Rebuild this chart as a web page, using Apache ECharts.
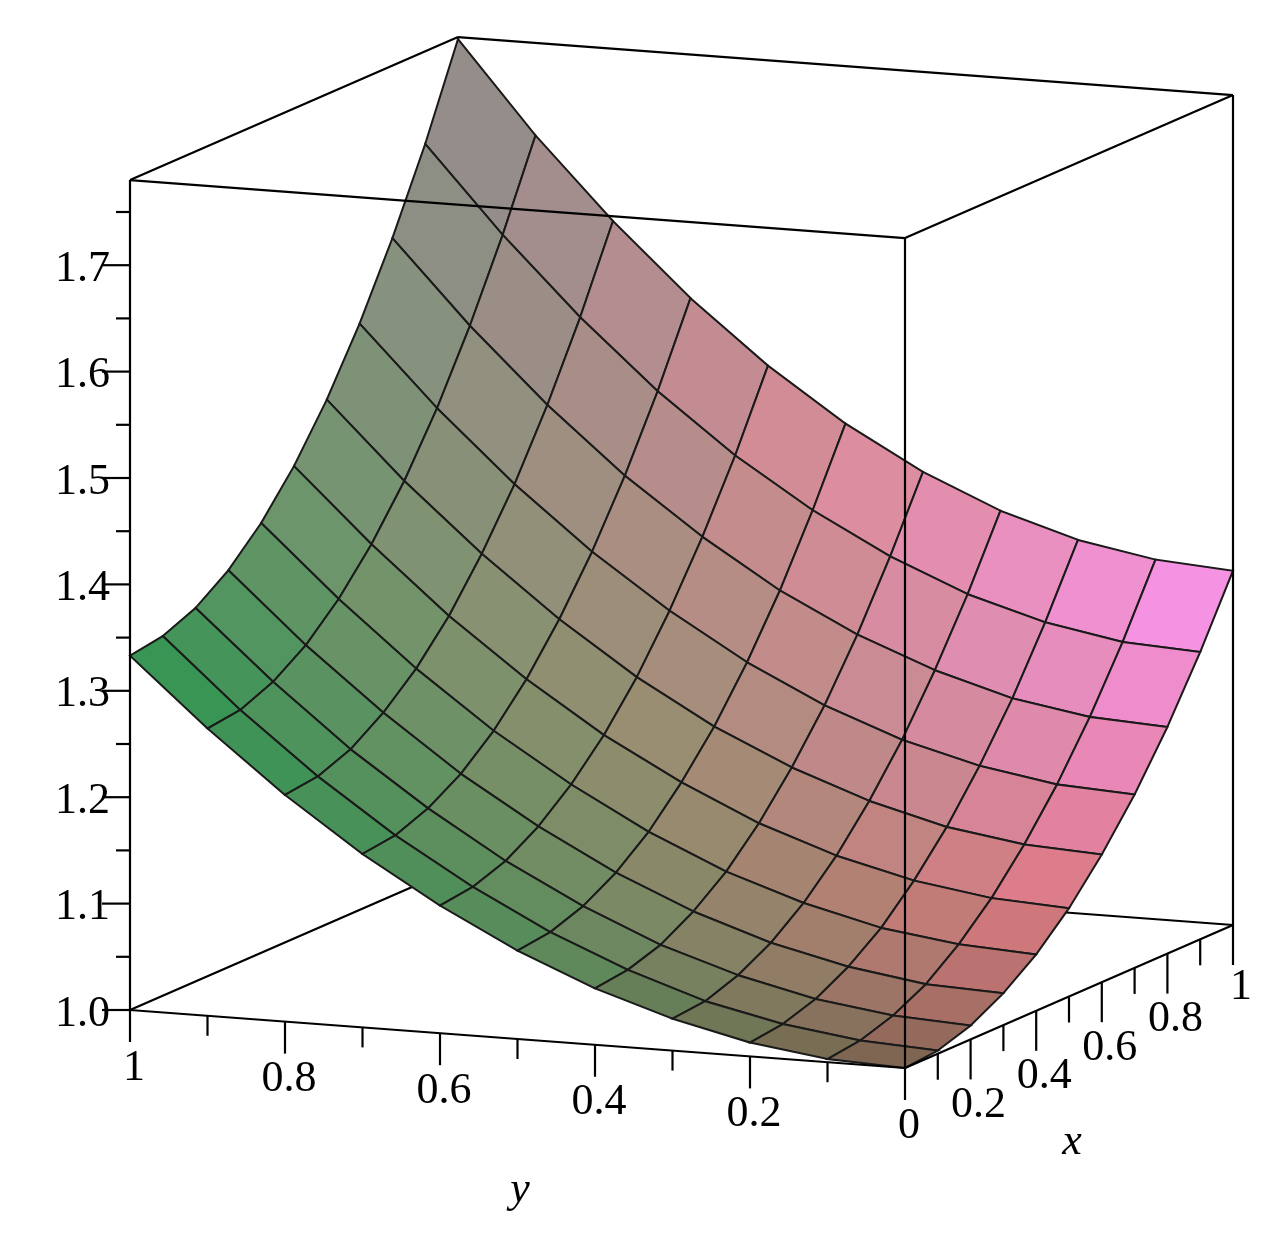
<!DOCTYPE html>
<html><head><meta charset="utf-8">
<script src="https://cdn.jsdelivr.net/npm/echarts@6/dist/echarts.min.js"></script>
<style>html,body{margin:0;padding:0;background:#fff}#c{width:1288px;height:1236px}</style>
</head><body><div id="c"></div>
<script>
// grid sample positions
var xs = [0,0.1,0.2,0.3,0.4,0.5,0.6,0.7,0.8,0.9,1];
var ys = [0,0.1,0.2,0.3,0.4,0.5,0.6,0.7,0.8,0.9,1];
// surface heights, rows by y, columns by x
var zRows = [
[1.000,1.003,1.013,1.030,1.053,1.083,1.120,1.163,1.213,1.270,1.333],
[1.003,1.007,1.017,1.033,1.057,1.087,1.124,1.167,1.217,1.274,1.338],
[1.013,1.017,1.027,1.044,1.067,1.098,1.135,1.179,1.229,1.287,1.351],
[1.030,1.033,1.044,1.061,1.085,1.116,1.154,1.198,1.250,1.308,1.373],
[1.053,1.057,1.067,1.085,1.109,1.141,1.180,1.225,1.278,1.338,1.404],
[1.083,1.087,1.098,1.116,1.141,1.174,1.213,1.260,1.314,1.376,1.444],
[1.120,1.124,1.135,1.154,1.180,1.213,1.254,1.303,1.359,1.422,1.493],
[1.163,1.167,1.179,1.198,1.225,1.260,1.303,1.353,1.411,1.477,1.551],
[1.213,1.217,1.229,1.250,1.278,1.314,1.359,1.411,1.472,1.541,1.618],
[1.270,1.274,1.287,1.308,1.338,1.376,1.422,1.477,1.541,1.613,1.693],
[1.333,1.338,1.351,1.373,1.404,1.444,1.493,1.551,1.618,1.693,1.778]
];
var zTickLabels = ['1.0','1.1','1.2','1.3','1.4','1.5','1.6','1.7'];
var yTickLabels = ['1','0.8','0.6','0.4','0.2','0'];
var xTickLabels = ['0.2','0.4','0.6','0.8','1'];
var zMin = 1.0, zMax = 1.78;
// colour control points: rows y=0,0.5,1 ; columns x=0,0.5,1
var colorGrid = [
 [[120,95,75],[225,120,130],[250,150,245]],
 [[85,140,90],[150,140,110],[225,140,155]],
 [[45,150,80],[110,150,110],[145,140,140]]
];

function proj(x,y,z){ return [905+328*x-775*y, 1068-143*x-58*y-1064*(z-1)]; }
function col(x,y){
  var gx=Math.min(1,Math.floor(x*2)), gy=Math.min(1,Math.floor(y*2));
  var fx=x*2-gx, fy=y*2-gy;
  var a=colorGrid[gy][gx], b=colorGrid[gy][gx+1], c=colorGrid[gy+1][gx], d=colorGrid[gy+1][gx+1];
  var r=[0,1,2].map(function(i){
    return Math.round(a[i]*(1-fx)*(1-fy)+b[i]*fx*(1-fy)+c[i]*(1-fx)*fy+d[i]*fx*fy);});
  return 'rgb('+r.join(',')+')';
}
var chart = echarts.init(document.getElementById('c'));
function render(params, api){
  function P(x,y,z){ return api.coord(proj(x,y,z)); }
  function line(a,b,w){ return {type:'line',shape:{x1:a[0],y1:a[1],x2:b[0],y2:b[1]},style:{stroke:'#000',lineWidth:w||2.2}}; }
  function text(s,p,align,vAlign,italic){ return {type:'text',x:p[0],y:p[1],style:{text:s,fill:'#000',font:(italic?'italic ':'')+'44px "Liberation Serif"',align:align,verticalAlign:vAlign}}; }
  var ch=[];
  ch.push(line(P(1,1,zMin),P(0,1,zMin)));
  ch.push(line(P(1,1,zMin),P(1,0,zMin)));
  ch.push(line(P(1,1,zMin),P(1,1,zMax)));
  var cells=[];
  for(var j=0;j<ys.length-1;j++)for(var i=0;i<xs.length-1;i++)cells.push([i,j]);
  cells.sort(function(a,b){return (b[0]+b[1])-(a[0]+a[1]);});
  cells.forEach(function(c){
    var i=c[0],j=c[1];
    var pts=[P(xs[i],ys[j],zRows[j][i]),P(xs[i+1],ys[j],zRows[j][i+1]),P(xs[i+1],ys[j+1],zRows[j+1][i+1]),P(xs[i],ys[j+1],zRows[j+1][i])];
    ch.push({type:'polygon',shape:{points:pts},style:{fill:col((xs[i]+xs[i+1])/2,(ys[j]+ys[j+1])/2),stroke:'#1a1a1a',lineWidth:2}});
  });
  ch.push(line(P(0,1,zMin),P(0,0,zMin)));
  ch.push(line(P(0,0,zMin),P(1,0,zMin)));
  ch.push(line(P(0,1,zMin),P(0,1,zMax)));
  ch.push(line(P(0,0,zMin),P(0,0,zMax)));
  ch.push(line(P(1,0,zMin),P(1,0,zMax)));
  ch.push(line(P(0,1,zMax),P(0,0,zMax)));
  ch.push(line(P(0,0,zMax),P(1,0,zMax)));
  ch.push(line(P(1,0,zMax),P(1,1,zMax)));
  ch.push(line(P(1,1,zMax),P(0,1,zMax)));
  for(var k=0;k<=15;k++){
    var z=1+k*0.05, p=P(0,1,z), major=(k%2===0);
    ch.push(line(p,[p[0]-(major?28:14),p[1]]));
    if(major) ch.push(text(zTickLabels[k/2],[p[0]-20,p[1]+4],'right','middle'));
  }
  for(var k=0;k<=10;k++){
    var y=1-k*0.1, p=P(0,y,zMin), major=(k%2===0);
    ch.push(line(p,[p[0],p[1]+(major?32:20)]));
    if(major) ch.push(text(yTickLabels[k/2],[p[0]+4,p[1]+36],'center','top'));
  }
  for(var k=1;k<=10;k++){
    var x=k*0.1, p=P(x,0,zMin), major=(k%2===0);
    ch.push(line(p,[p[0],p[1]+(major?40:26)]));
    if(major) ch.push(text(xTickLabels[k/2-1],[p[0]+8,p[1]+(k===10?40:44)],'center','top'));
  }
  ch.push(text('y',[520,1168],'center','top',true));
  ch.push(text('x',[1072,1120],'center','top',true));
  return {type:'group',children:ch};
}
chart.setOption({
  animation:false,
  grid:{left:0,right:0,top:0,bottom:0},
  xAxis:{type:'value',min:0,max:1288,show:false},
  yAxis:{type:'value',min:0,max:1236,inverse:true,show:false},
  series:[{type:'custom',renderItem:render,data:[[0,0]],clip:false}]
});
</script></body></html>
